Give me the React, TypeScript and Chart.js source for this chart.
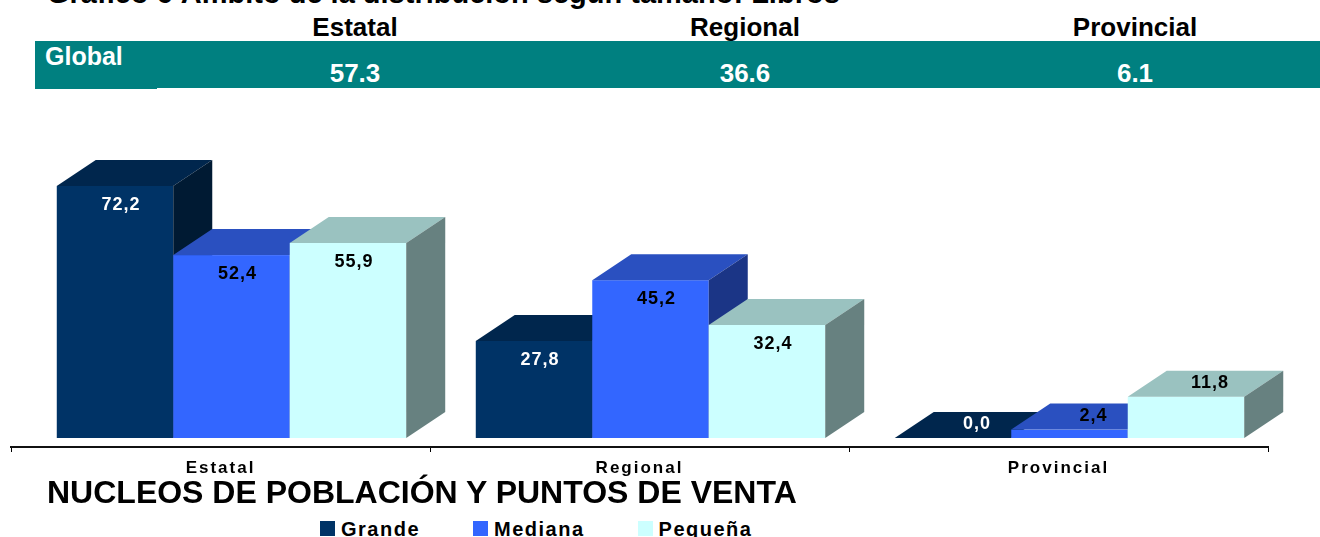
import React, { useEffect, useRef } from 'react';
import { Chart, registerables } from 'chart.js';

Chart.register(...registerables);

// ---------- data ----------
const categories = ['Estatal', 'Regional', 'Provincial'];
const globalLabel = 'Global';
const globalValues = [57.3, 36.6, 6.1];
const seriesNames = ['Grande', 'Mediana', 'Pequeña'];
const grande = [72.2, 27.8, 0.0];
const mediana = [52.4, 45.2, 2.4];
const pequena = [55.9, 32.4, 11.8];
const topTitle = 'Gráfico 6 Ámbito de la distribución según tamaño: Libros';
const chartTitle = 'NUCLEOS DE POBLACIÓN Y PUNTOS DE VENTA';

// ---------- styles ----------
const FONT = '"Liberation Sans", Arial, Helvetica, sans-serif';
const FRONT = ['#003366', '#3366FF', '#CCFFFF'];
const TOP = ['#00264D', '#2A50C0', '#9AC2C0'];
const SIDE = ['#001A33', '#1B3586', '#678180'];
const LABEL_COLOR = ['#FFFFFF', '#000000', '#000000'];
const TEAL = '#008080';
const DX = 39;
const DY = 26;
const SHIFT = 11;

const fmt = (v: number) => v.toFixed(1).replace('.', ',');

const bars3d = {
  id: 'bars3d',
  beforeDraw(chart: any) {
    chart.ctx.letterSpacing = '2px';
  },
  beforeDatasetsDraw(chart: any) {
    const ctx = chart.ctx as CanvasRenderingContext2D;
    const n = chart.data.labels.length;
    const metas = chart.data.datasets.map((_: any, i: number) => chart.getDatasetMeta(i));
    const poly = (pts: number[][], color: string) => {
      ctx.beginPath();
      ctx.moveTo(pts[0][0], pts[0][1]);
      for (let i = 1; i < pts.length; i++) ctx.lineTo(pts[i][0], pts[i][1]);
      ctx.closePath();
      ctx.fillStyle = color;
      ctx.fill();
    };
    ctx.save();
    for (let c = 0; c < n; c++) {
      const labels: { x: number; y: number; text: string; color: string }[] = [];
      metas.forEach((meta: any, d: number) => {
        const el = meta.data[c];
        const { x, y, base, width } = el.getProps(['x', 'y', 'base', 'width'], true);
        const x0 = x - width / 2 + SHIFT;
        const x1 = x + width / 2 + SHIFT;
        ctx.fillStyle = FRONT[d];
        ctx.fillRect(x0, y, x1 - x0, base - y);
        poly([[x0, y], [x1, y], [x1 + DX, y - DY], [x0 + DX, y - DY]], TOP[d]);
        poly([[x1, y], [x1 + DX, y - DY], [x1 + DX, base - DY], [x1, base]], SIDE[d]);
        const v = chart.data.datasets[d].data[c];
        const h = base - y;
        const cx = (x0 + x1) / 2;
        if (h > 45) labels.push({ x: cx + 6, y: y + 19, text: fmt(v), color: LABEL_COLOR[d] });
        else labels.push({ x: cx + 24, y: y - 14, text: fmt(v), color: LABEL_COLOR[d] });
      });
      ctx.font = `bold 18px ${FONT}`;
      (ctx as any).letterSpacing = '1px';
      ctx.textAlign = 'center';
      ctx.textBaseline = 'middle';
      labels.forEach((l) => {
        ctx.fillStyle = l.color;
        ctx.fillText(l.text, l.x, l.y);
      });
    }
    ctx.restore();
    return false;
  },
};

function BarChart() {
  const ref = useRef<HTMLCanvasElement | null>(null);
  useEffect(() => {
    if (!ref.current) return;
    const chart = new Chart(ref.current, {
      type: 'bar',
      data: {
        labels: categories,
        datasets: [
          { label: seriesNames[0], data: grande, backgroundColor: FRONT[0] },
          { label: seriesNames[1], data: mediana, backgroundColor: FRONT[1] },
          { label: seriesNames[2], data: pequena, backgroundColor: FRONT[2] },
        ],
      },
      options: {
        animation: false,
        responsive: false,
        maintainAspectRatio: false,
        layout: { padding: { left: 11, right: 52, top: 59, bottom: 0 } },
        datasets: { bar: { categoryPercentage: 0.834, barPercentage: 1 } },
        plugins: {
          legend: { display: false },
          tooltip: { enabled: false },
          title: { display: false },
        },
        scales: {
          x: {
            grid: {
              display: true,
              drawOnChartArea: false,
              drawTicks: true,
              tickLength: 5,
              color: '#000',
              lineWidth: 1,
              offset: true,
            },
            border: { display: true, color: '#111', width: 2 },
            ticks: {
              color: '#000',
              padding: 6,
              font: { family: FONT, size: 17, weight: 'bold' },
            },
            afterFit: (s: any) => {
              s.height = 33;
            },
          },
          y: { display: false, min: -2.58, max: 79.93 },
        },
      } as any,
      plugins: [bars3d as any],
    });
    return () => chart.destroy();
  }, []);
  return (
    <canvas
      ref={ref}
      width={1320}
      height={380}
      style={{ position: 'absolute', left: 0, top: 100, width: 1320, height: 380, display: 'block' }}
    />
  );
}

export default function App() {
  const colLeft = 160;
  const colW = 390;
  return (
    <div
      style={{
        position: 'absolute',
        left: 0,
        top: 0,
        width: 1320,
        height: 537,
        overflow: 'hidden',
        background: '#fff',
        fontFamily: FONT,
        fontWeight: 'bold',
        color: '#000',
      }}
    >
      <div style={{ position: 'absolute', left: 47, top: -21, fontSize: 29, lineHeight: '29px', whiteSpace: 'nowrap' }}>
        {topTitle}
      </div>
      <div style={{ position: 'absolute', left: 35, top: 41, width: 1285, height: 47, background: TEAL }} />
      <div style={{ position: 'absolute', left: 35, top: 41, width: 122, height: 48, background: TEAL }} />
      <div style={{ position: 'absolute', left: 45, top: 44, fontSize: 25, lineHeight: '25px', color: '#fff' }}>
        {globalLabel}
      </div>
      {categories.map((c, i) => (
        <div
          key={'h' + c}
          style={{
            position: 'absolute',
            left: colLeft + i * colW,
            width: colW,
            top: 14,
            textAlign: 'center',
            fontSize: 26,
            lineHeight: '26px',
          }}
        >
          {c}
        </div>
      ))}
      {globalValues.map((v, i) => (
        <div
          key={'v' + i}
          style={{
            position: 'absolute',
            left: colLeft + i * colW,
            width: colW,
            top: 60,
            textAlign: 'center',
            fontSize: 26,
            lineHeight: '26px',
            color: '#fff',
          }}
        >
          {v.toFixed(1)}
        </div>
      ))}
      <BarChart />
      <div style={{ position: 'absolute', left: 47, top: 476, fontSize: 32, lineHeight: '32px', whiteSpace: 'nowrap' }}>
        {chartTitle}
      </div>
      <div style={{ position: 'absolute', left: 320, top: 519, display: 'flex', gap: 53, alignItems: 'flex-start' }}>
        {seriesNames.map((s, i) => (
          <div key={s} style={{ display: 'flex', alignItems: 'flex-start', gap: 6 }}>
            <div style={{ width: 15, height: 15, marginTop: 2, background: FRONT[i] }} />
            <span style={{ fontSize: 20, lineHeight: '20px', letterSpacing: 1.5 }}>{s}</span>
          </div>
        ))}
      </div>
    </div>
  );
}
